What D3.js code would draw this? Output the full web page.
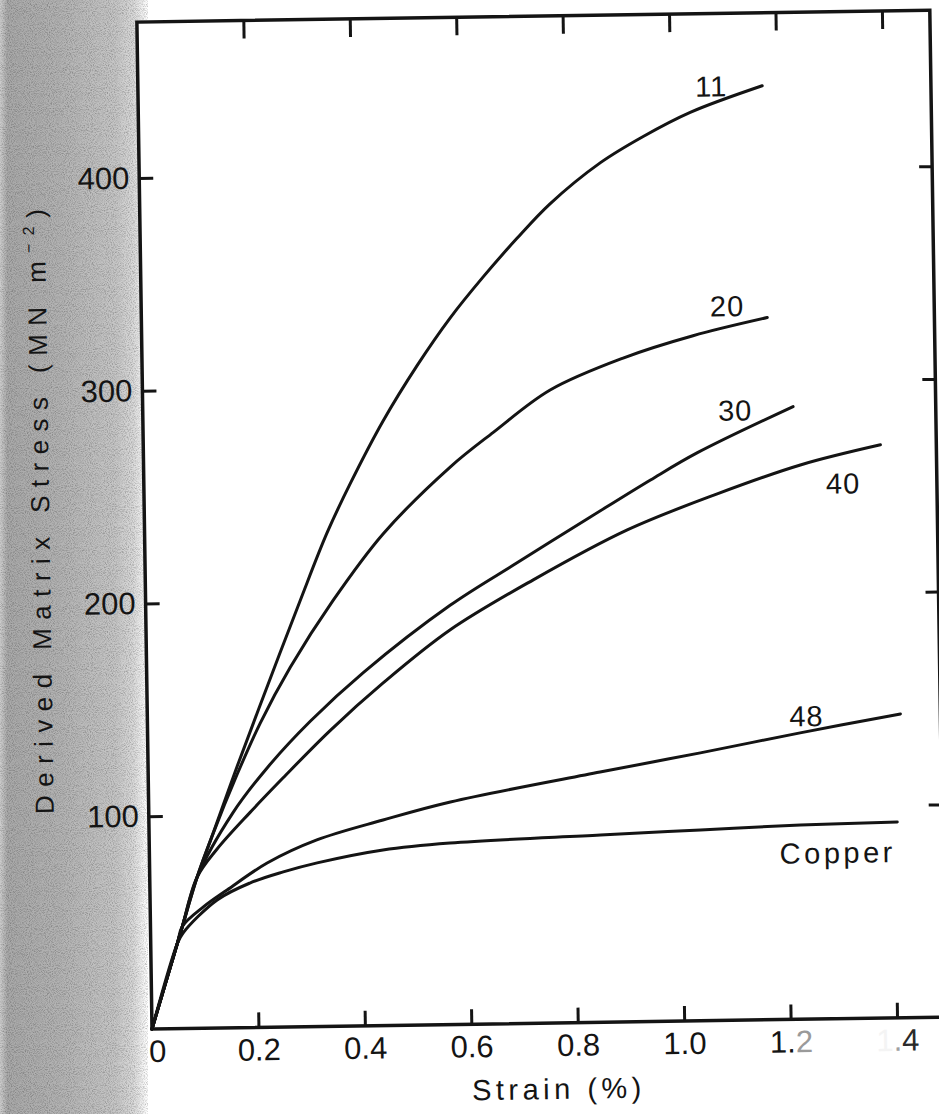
<!DOCTYPE html>
<html>
<head>
<meta charset="utf-8">
<script src="https://cdn.jsdelivr.net/npm/d3@7"></script>
<style>
  html, body { margin: 0; padding: 0; background: #fff; }
  svg { display: block; }
  text { font-family: "Liberation Sans", Arial, Helvetica, sans-serif; fill: #141414; }
</style>
</head>
<body>
<svg id="chart" width="939" height="1114"></svg>
<script>
// Stress-strain curves: strain (%) against derived matrix stress (MN m^-2)
const curveNames = ["11", "20", "30", "40", "48", "Copper"];

const strain11 = [0, 0.05, 0.06, 0.089, 0.118, 0.16, 0.21, 0.29, 0.343, 0.388, 0.451, 0.517, 0.58, 0.643, 0.708, 0.771, 0.867, 0.948, 1.037, 1.173];
const stress11 = [0, 40, 48, 71, 90, 118, 150, 200, 232, 255, 284, 310, 332, 351, 369, 385, 404, 416, 427, 439];

const strain20 = [0, 0.05, 0.06, 0.089, 0.118, 0.167, 0.212, 0.27, 0.352, 0.448, 0.576, 0.658, 0.766, 0.904, 1.036, 1.176];
const stress20 = [0, 40, 48, 71, 90, 119, 143, 169, 200, 231, 262, 278, 297.5, 312, 322, 330];

const strain30 = [0, 0.05, 0.06, 0.089, 0.158, 0.224, 0.306, 0.407, 0.572, 0.699, 0.838, 0.952, 1.041, 1.222];
const stress30 = [0, 40, 48, 71, 101, 122, 143.5, 166, 197, 216.5, 237.5, 254.5, 267, 288];

const strain40 = [0, 0.05, 0.06, 0.089, 0.127, 0.19, 0.253, 0.343, 0.444, 0.571, 0.729, 0.907, 1.077, 1.234, 1.385];
const stress40 = [0, 40, 48, 71, 84, 101, 117, 139, 161, 185.4, 208.4, 231.2, 247.5, 260.5, 269.4];

const strain48 = [0, 0.05, 0.06, 0.1, 0.145, 0.221, 0.315, 0.44, 0.567, 0.849, 1.038, 1.226, 1.415];
const stress48 = [0, 40, 48, 57, 64.8, 77.2, 87.7, 96.6, 104.6, 117.6, 125.9, 134.6, 142.8];

const strainCu = [0, 0.05, 0.061, 0.126, 0.188, 0.251, 0.315, 0.439, 0.565, 0.848, 1.036, 1.224, 1.406];
const stressCu = [0, 40, 44.9, 60.2, 67.9, 72.9, 76.9, 82.5, 85.3, 88, 89.7, 91.3, 92];

const xTickValues = [0, 0.2, 0.4, 0.6, 0.8, 1.0, 1.2, 1.4];
const xTickLabels = ["0", "0.2", "0.4", "0.6", "0.8", "1.0", "1.2", "1.4"];
const yTickValues = [100, 200, 300, 400];
const yTickLabels = ["100", "200", "300", "400"];

const xTitle = "Strain (%)";
const yTitle = "Derived Matrix Stress (MN m";

// ---- layout ----
const svg = d3.select("#chart");
const W = 939, H = 1114;
const margin = { left: 152, top: 22 };
const plotW = 793, plotH = 1007;
const tilt = -0.86; // the printed page sits slightly askew

const x = d3.scaleLinear().domain([0, 1.49]).range([0, plotW]);
const y = d3.scaleLinear().domain([0, 473.3]).range([plotH, 0]);

// ---- shaded left margin of the page ----
const defs = svg.append("defs");
const grad = defs.append("linearGradient").attr("id", "shade").attr("x1", 0).attr("x2", 1).attr("y1", 0).attr("y2", 0);
[[0, "#cfcfcf"], [0.05, "#a9a9a9"], [0.4, "#b3b3b3"], [0.78, "#c6c6c6"], [0.9, "#d9d9d9"], [0.97, "#f4f4f4"], [1, "#ffffff"]]
  .forEach(([o, c]) => grad.append("stop").attr("offset", o).attr("stop-color", c));

const grain = defs.append("filter").attr("id", "grain").attr("x", 0).attr("y", 0).attr("width", "100%").attr("height", "100%");
grain.append("feTurbulence").attr("type", "fractalNoise").attr("baseFrequency", 0.95).attr("numOctaves", 2).attr("seed", 7).attr("result", "noise");
grain.append("feColorMatrix").attr("in", "noise").attr("type", "matrix")
  .attr("values", "0 0 0 0 0  0 0 0 0 0  0 0 0 0 0  2.4 0 0 0 -0.95").attr("result", "dots");
grain.append("feComponentTransfer").attr("in", "dots").attr("result", "soft")
  .append("feFuncA").attr("type", "linear").attr("slope", 0.45);
grain.append("feComposite").attr("in", "soft").attr("in2", "SourceAlpha").attr("operator", "in").attr("result", "clipped");
const merge = grain.append("feMerge");
merge.append("feMergeNode").attr("in", "SourceGraphic");
merge.append("feMergeNode").attr("in", "clipped");

svg.append("rect").attr("x", 0).attr("y", 0).attr("width", 148).attr("height", H)
  .attr("fill", "url(#shade)").attr("filter", "url(#grain)");

// ---- chart group ----
const g = svg.append("g")
  .attr("transform", `rotate(${tilt},${margin.left},${margin.top + plotH}) translate(${margin.left},${margin.top})`);

g.append("rect").attr("x", 0).attr("y", 0).attr("width", plotW).attr("height", plotH)
  .attr("fill", "#fff");

// axes with inward ticks
function styleAxis(sel) {
  sel.select(".domain").remove();
  sel.selectAll(".tick line").attr("stroke", "#141414").attr("stroke-width", 3);
}

const xAxis = g.append("g").attr("transform", `translate(0,${plotH})`)
  .call(d3.axisBottom(x).tickValues(xTickValues).tickSize(-15).tickPadding(11)
    .tickFormat((d, i) => xTickLabels[i]))
  .call(styleAxis);
xAxis.selectAll(".tick text").attr("font-size", 31).attr("font-family", null);
xAxis.selectAll(".tick").filter(d => d === 0).call(t => {
  t.select("line").remove();
  t.select("text").attr("dx", 5);
});

// faded print on the last two tick labels
xAxis.selectAll(".tick").filter(d => Math.abs(d - 1.2) < 1e-9).select("text").text(null)
  .call(t => { t.append("tspan").text("1."); t.append("tspan").attr("fill", "#9a9a9a").text("2"); });
xAxis.selectAll(".tick").filter(d => Math.abs(d - 1.4) < 1e-9).select("text").text(null)
  .call(t => {
    t.append("tspan").attr("fill", "#f4f4f4").text("1");
    t.append("tspan").attr("fill", "#a0a0a0").text(".");
    t.append("tspan").attr("fill", "#2a2a2a").text("4");
  });

g.append("g")
  .call(d3.axisTop(x).tickValues(xTickValues.slice(1)).tickSize(-18).tickFormat(""))
  .call(styleAxis);

const yAxis = g.append("g")
  .call(d3.axisLeft(y).tickValues(yTickValues).tickSize(-14).tickPadding(10)
    .tickFormat((d, i) => yTickLabels[i]))
  .call(styleAxis);
yAxis.selectAll(".tick text").attr("font-size", 31).attr("font-family", null);

g.append("g").attr("transform", `translate(${plotW},0)`)
  .call(d3.axisRight(y).tickValues(yTickValues).tickSize(-13).tickFormat(""))
  .call(styleAxis);

// frame
g.append("rect").attr("x", 0).attr("y", 0).attr("width", plotW).attr("height", plotH)
  .attr("fill", "none").attr("stroke", "#141414").attr("stroke-width", 3.5);

// curves
const series = [
  { name: curveNames[0], xs: strain11, ys: stress11 },
  { name: curveNames[1], xs: strain20, ys: stress20 },
  { name: curveNames[2], xs: strain30, ys: stress30 },
  { name: curveNames[3], xs: strain40, ys: stress40 },
  { name: curveNames[4], xs: strain48, ys: stress48 },
  { name: curveNames[5], xs: strainCu, ys: stressCu }
];

const line = d3.line()
  .x(d => x(d[0]))
  .y(d => y(d[1]))
  .curve(d3.curveCatmullRom.alpha(0.5));

g.selectAll("path.curve")
  .data(series)
  .join("path")
  .attr("class", "curve")
  .attr("fill", "none")
  .attr("stroke", "#141414")
  .attr("stroke-width", 3)
  .attr("stroke-linejoin", "round")
  .attr("stroke-linecap", "round")
  .attr("d", s => line(s.xs.map((v, i) => [v, s.ys[i]])));

// curve labels, placed relative to each curve's end point
const labelShift = { "11": [-51, 10], "20": [-40, -2], "30": [-58, 13], "40": [-38, 48], "48": [-94, 11], "Copper": [-60, 40] };
g.selectAll("text.curve-label")
  .data(series)
  .join("text")
  .attr("class", "curve-label")
  .attr("text-anchor", "middle")
  .attr("font-size", 29)
  .attr("letter-spacing", s => s.name === "Copper" ? 3.5 : 1)
  .attr("x", s => x(s.xs[s.xs.length - 1]) + labelShift[s.name][0])
  .attr("y", s => y(s.ys[s.ys.length - 1]) + labelShift[s.name][1])
  .text(s => s.name);

// axis titles
g.append("text")
  .attr("text-anchor", "middle")
  .attr("x", 406)
  .attr("y", plotH + 76)
  .attr("font-size", 29)
  .attr("letter-spacing", 4.5)
  .text(xTitle);

const yt = g.append("text")
  .attr("text-anchor", "middle")
  .attr("transform", `translate(-95,${plotH - 519}) rotate(-90)`)
  .attr("font-size", 26)
  .attr("textLength", 605)
  .attr("lengthAdjust", "spacing");
yt.append("tspan").text(yTitle);
yt.append("tspan").attr("font-size", 16).attr("dy", -11).text("−2");
yt.append("tspan").attr("dy", 11).text(")");
</script>
</body>
</html>
